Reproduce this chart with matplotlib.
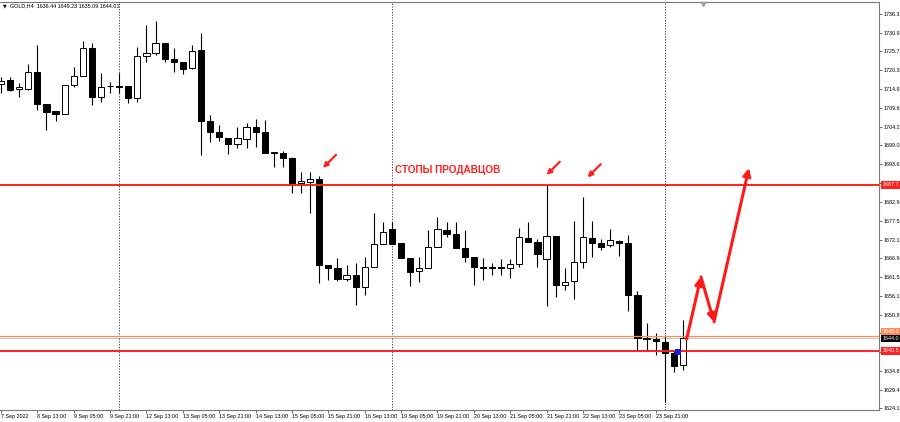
import matplotlib
matplotlib.use("Agg")
import matplotlib.pyplot as plt
import matplotlib.transforms as mtransforms
from matplotlib.patches import Rectangle

plt.rcParams['font.family'] = ['Liberation Sans', 'DejaVu Sans']

# GOLD H4 candles (index 0 = 7 Sep 2022 21:00)
opens = [1716.3, 1717.5, 1714.9, 1714.9, 1719.9, 1710.7, 1708.7, 1707.8, 1716.1, 1718.7,
         1726.5, 1712.6, 1715.8, 1715.9, 1715.8, 1712.3, 1724.4, 1725.1, 1728.0, 1723.5,
         1722.7, 1720.9, 1726.1, 1705.9, 1702.8, 1700.9, 1699.2, 1700.7, 1704.1, 1702.8,
         1697.0, 1696.7, 1695.2, 1688.1, 1688.6, 1689.3, 1664.9, 1664.0, 1660.8, 1662.0,
         1658.7, 1664.4, 1670.8, 1675.0, 1671.1, 1666.8, 1663.3, 1664.0, 1670.1, 1674.8,
         1673.6, 1669.8, 1667.1, 1664.4, 1664.1, 1664.2, 1664.0, 1665.1, 1672.7, 1671.3,
         1666.5, 1673.1, 1659.2, 1660.3, 1665.8, 1672.7, 1671.1, 1670.6, 1671.8, 1671.1,
         1656.4, 1644.0, 1643.8, 1643.1, 1639.9, 1636.44]
highs = [1718.5, 1718.5, 1716.7, 1722.1, 1727.5, 1710.7, 1708.7, 1716.1, 1721.2, 1728.7,
         1728.0, 1719.5, 1717.0, 1719.5, 1715.8, 1727.0, 1733.2, 1734.3, 1728.0, 1726.5,
         1722.7, 1727.5, 1730.8, 1707.6, 1704.7, 1700.9, 1704.2, 1705.2, 1706.3, 1706.1,
         1697.0, 1697.4, 1695.7, 1691.4, 1691.4, 1690.2, 1664.9, 1667.0, 1664.9, 1665.4,
         1667.3, 1679.8, 1677.2, 1677.2, 1671.1, 1666.8, 1667.3, 1674.8, 1678.6, 1677.2,
         1677.2, 1674.8, 1667.1, 1666.8, 1665.4, 1666.5, 1666.5, 1675.3, 1677.2, 1672.2,
         1687.7, 1673.1, 1664.0, 1677.4, 1684.2, 1677.4, 1672.2, 1675.0, 1672.0, 1673.4,
         1657.6, 1648.3, 1645.5, 1645.0, 1640.7, 1649.23]
lows = [1713.7, 1714.4, 1712.8, 1714.7, 1709.0, 1703.3, 1705.9, 1707.8, 1715.5, 1718.7,
        1710.4, 1711.3, 1713.7, 1713.8, 1711.1, 1711.3, 1722.7, 1724.6, 1722.7, 1719.9,
        1719.1, 1720.6, 1696.2, 1700.0, 1700.3, 1696.5, 1698.1, 1698.1, 1698.5, 1696.8,
        1692.9, 1692.9, 1685.3, 1685.3, 1679.6, 1659.7, 1660.6, 1660.4, 1660.4, 1653.5,
        1656.4, 1664.4, 1670.8, 1670.8, 1666.8, 1658.9, 1660.1, 1664.0, 1670.1, 1672.8,
        1669.8, 1665.8, 1659.2, 1660.6, 1662.0, 1662.0, 1661.1, 1664.4, 1671.3, 1664.2,
        1653.2, 1655.9, 1657.8, 1655.1, 1664.0, 1667.3, 1669.2, 1670.1, 1667.4, 1651.9,
        1640.5, 1640.5, 1639.3, 1626.0, 1634.3, 1635.09]
closes = [1717.3, 1714.7, 1715.4, 1719.9, 1710.7, 1708.5, 1707.8, 1716.1, 1718.7, 1726.5,
          1712.6, 1715.6, 1715.8, 1715.6, 1712.3, 1724.3, 1725.3, 1728.0, 1723.4, 1722.7,
          1720.6, 1725.9, 1705.9, 1702.8, 1701.2, 1699.3, 1700.9, 1704.1, 1702.8, 1696.8,
          1696.7, 1695.2, 1688.1, 1688.8, 1689.3, 1664.9, 1664.1, 1660.8, 1662.0, 1658.7,
          1664.4, 1670.8, 1674.4, 1670.8, 1666.8, 1663.0, 1664.0, 1670.1, 1675.0, 1673.7,
          1669.8, 1667.1, 1664.4, 1664.1, 1664.3, 1664.0, 1665.1, 1672.8, 1671.3, 1667.9,
          1673.1, 1659.2, 1660.1, 1665.8, 1672.8, 1671.1, 1670.1, 1672.0, 1671.2, 1656.4,
          1644.0, 1643.8, 1643.4, 1639.8, 1636.2, 1644.01]

x_tick_idx = [0, 4, 8, 12, 16, 20, 24, 28, 32, 36, 40, 44, 48, 52, 56, 60, 64, 68, 72]
x_tick_labels = ['7 Sep 2022', '8 Sep 13:00', '9 Sep 05:00', '9 Sep 21:00', '12 Sep 13:00',
                 '13 Sep 05:00', '13 Sep 21:00', '14 Sep 13:00', '15 Sep 05:00', '15 Sep 21:00',
                 '16 Sep 13:00', '19 Sep 05:00', '19 Sep 21:00', '20 Sep 13:00', '21 Sep 05:00',
                 '21 Sep 21:00', '22 Sep 13:00', '23 Sep 05:00', '23 Sep 21:00']
y_ticks = [1736.3, 1730.9, 1725.7, 1720.3, 1714.9, 1709.6, 1704.2, 1699.0, 1693.6, 1688.2,
           1682.9, 1677.5, 1672.1, 1666.9, 1661.5, 1656.1, 1650.8, 1645.4, 1640.0, 1634.8,
           1629.4, 1624.1]
# these scale labels sit under the coloured price boxes
hidden_ticks = [1688.2, 1645.4, 1640.0]
week_sep_idx = [13, 43, 73]

sellers_stops = 1687.7
support = 1640.5
orange_level = 1644.7
bid = 1644.01

# small red arrows (tip index, tip price)
stop_arrow_idx = [35.4, 60.0, 64.5]
stop_arrow_price = [1692.5, 1690.5, 1689.8]
# forecast zigzag (index, price)
path_idx = [75.4, 76.98, 78.41, 82.26]
path_price = [1643.8, 1661.5, 1648.7, 1692.5]

fig = plt.figure(figsize=(9, 4.22), dpi=100)
ax = fig.add_axes([0, 12 / 422, 879 / 900, 408 / 422])
ax.set_xlim(-0.11, 96.56)
ax.set_ylim(1623.63, 1739.71)

# candles
for i in range(len(opens)):
    o, h, l, c = opens[i], highs[i], lows[i], closes[i]
    ax.vlines(i, l, h, color='black', lw=0.8, zorder=2)
    fc = 'white' if c > o else 'black'
    ax.bar(i, abs(c - o), bottom=min(o, c), width=0.68, facecolor=fc,
           edgecolor='black', linewidth=0.7, zorder=3)

# levels
ax.axhline(sellers_stops, color='#ff2020', lw=1.4, zorder=4)
ax.axhline(support, color='#ff2020', lw=1.4, zorder=4)
ax.axhline(orange_level, color='#ff8a5c', lw=0.9, zorder=4)
ax.axhline(bid, color='#c8c8c8', lw=0.8, zorder=1)

for s in week_sep_idx:
    ax.axvline(s, color='#3a3a3a', lw=0.7, ls=(0, (1.2, 1.6)), zorder=1)

ax.add_patch(Rectangle((74.15, 1639.4), 0.65, 1.5, facecolor='#1020e0',
                       edgecolor='none', zorder=5))

for xi, yi in zip(stop_arrow_idx, stop_arrow_price):
    ax.annotate('', xy=(xi, yi), xytext=(9.5, 9.5), textcoords='offset points',
                arrowprops=dict(arrowstyle='-|>', color='#ff2020', lw=1.6,
                                mutation_scale=7, shrinkA=0, shrinkB=0), zorder=6)

for k in range(len(path_idx) - 1):
    ax.annotate('', xy=(path_idx[k + 1], path_price[k + 1]),
                xytext=(path_idx[k], path_price[k]),
                arrowprops=dict(arrowstyle='-|>', color='#ff1a1a', lw=2.2,
                                mutation_scale=11, shrinkA=0, shrinkB=0), zorder=6)

ax.text(43.3, 1691.9, 'СТОПЫ ПРОДАВЦОВ', color='#ff2020', fontsize=7.2,
        fontweight='bold', va='center', ha='left', zorder=6)

# axes styling
for side in ['top', 'right', 'bottom']:
    ax.spines[side].set_color('#7a7a7a')
    ax.spines[side].set_linewidth(0.8)
ax.spines['left'].set_visible(False)

ax.yaxis.tick_right()
ax.set_yticks(y_ticks)
ax.set_yticklabels(['' if v in hidden_ticks else f'{v:.1f}' for v in y_ticks])
ax.tick_params(axis='y', length=2, width=0.6, color='#555555', pad=1.2,
               labelsize=3.9)
ax.set_xticks(x_tick_idx)
ax.set_xticklabels(x_tick_labels, ha='left')
ax.tick_params(axis='x', length=2, width=0.6, color='#555555', pad=1.0,
               labelsize=3.9)

# price labels on the scale
trans = mtransforms.blended_transform_factory(ax.transAxes, ax.transData)
price_boxes = [(1645.9, '1645.3', '#ff8a5c'),
               (bid, '1644.0', 'black'),
               (support, '1640.5', '#ff2020'),
               (sellers_stops, '1687.7', '#ff2020')]
for val, txt, col in price_boxes:
    ax.text(1.004, val, txt, transform=trans, fontsize=3.9, color='white',
            ha='left', va='center', zorder=10, clip_on=False,
            bbox=dict(boxstyle='square,pad=0.25', fc=col, ec='none'))

# chart shift marker and header
ax.plot([77.2], [1739.2], marker='v', color='#a0a0a0', ms=3, clip_on=False, zorder=7)
fig.text(3 / 900, 1 - 6 / 422, '▼', fontsize=3.5, va='center', ha='left',
         family=['DejaVu Sans'])
fig.text(10 / 900, 1 - 6 / 422, 'GOLD,H4  1636.44 1649.23 1635.09 1644.01',
         fontsize=3.9, va='center', ha='left')

fig.savefig('out.png', dpi=100)
